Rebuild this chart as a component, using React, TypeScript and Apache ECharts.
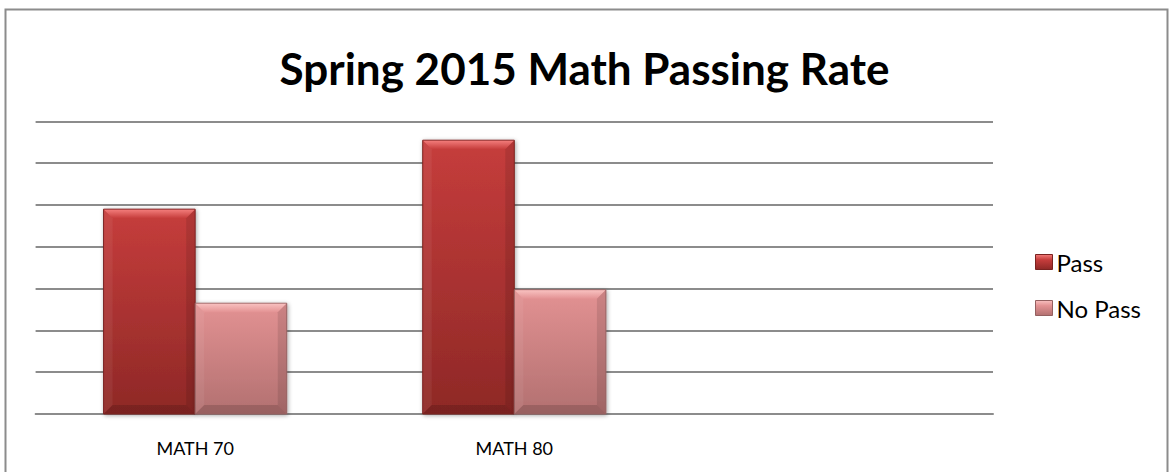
import React, { useEffect, useRef } from "react";
import * as echarts from "echarts";

const categories = ["MATH 70", "MATH 80", ""];
const passValues = [4.9, 6.55, null];
const noPassValues = [2.65, 2.97, null];
const seriesNames = ["Pass", "No Pass"];
const titleText = "Spring 2015 Math Passing Rate";

const FONT = "Lato, 'Open Sans', sans-serif";
const CAT_GAP = 0.426;

type Palette = { top: string; bottom: string; light: string; border: string };
const passPal: Palette = { top: "#c63d3c", bottom: "#8e2826", light: "#f27c7a", border: "#7a2220" };
const noPassPal: Palette = { top: "#e39293", bottom: "#b27070", light: "#f8c0bf", border: "#946060" };

function makeRender(side: number, pal: Palette) {
  return (params: any, api: any) => {
    const idx = api.value(0);
    const val = api.value(1);
    const top = api.coord([idx, val]);
    const base = api.coord([idx, 0]);
    const band = api.size([1, 0])[0];
    const w = (band * (1 - CAT_GAP)) / 2;
    const x0 = side === 0 ? top[0] - w : top[0];
    const x1 = x0 + w;
    const y0 = top[1];
    const y1 = base[1];
    const h = y1 - y0;
    const b = Math.min(9, h / 3);
    return {
      type: "group",
      children: [
        {
          type: "rect",
          shape: { x: x0, y: y0, width: w, height: h },
          style: {
            fill: new echarts.graphic.LinearGradient(0, 0, 0, 1, [
              { offset: 0, color: pal.top },
              { offset: 1, color: pal.bottom },
            ]),
            stroke: pal.border,
            lineWidth: 1,
            shadowColor: "rgba(0,0,0,0.35)",
            shadowBlur: 4,
            shadowOffsetX: 1,
            shadowOffsetY: 1,
          },
        },
        {
          type: "polygon",
          shape: { points: [[x0 + 0.5, y0 + 0.5], [x1 - 0.5, y0 + 0.5], [x1 - b, y0 + b], [x0 + b, y0 + b]] },
          style: {
            fill: new echarts.graphic.LinearGradient(0, 0, 0, 1, [
              { offset: 0, color: pal.light },
              { offset: 1, color: pal.top },
            ]),
          },
          silent: true,
        },
        {
          type: "polygon",
          shape: { points: [[x0 + 0.5, y0 + 0.5], [x0 + b, y0 + b], [x0 + b, y1 - b], [x0 + 0.5, y1 - 0.5]] },
          style: { fill: "rgba(255,255,255,0.06)" },
          silent: true,
        },
        {
          type: "polygon",
          shape: { points: [[x1 - 0.5, y0 + 0.5], [x1 - b, y0 + b], [x1 - b, y1 - b], [x1 - 0.5, y1 - 0.5]] },
          style: { fill: "rgba(0,0,0,0.10)" },
          silent: true,
        },
        {
          type: "polygon",
          shape: { points: [[x0 + 0.5, y1 - 0.5], [x0 + b, y1 - b], [x1 - b, y1 - b], [x1 - 0.5, y1 - 0.5]] },
          style: { fill: "rgba(0,0,0,0.14)" },
          silent: true,
        },
      ],
    };
  };
}

function toData(vals: (number | null)[]) {
  const out: number[][] = [];
  vals.forEach((v, i) => {
    if (v !== null) out.push([i, v]);
  });
  return out;
}

export default function App() {
  const ref = useRef<HTMLDivElement>(null);
  useEffect(() => {
    if (!ref.current) return;
    const chart = echarts.init(ref.current, undefined, { renderer: "svg" });
    const legendFill = (pal: Palette) =>
      new echarts.graphic.LinearGradient(0, 0, 0, 1, [
        { offset: 0, color: pal.light },
        { offset: 0.35, color: pal.top },
        { offset: 1, color: pal.bottom },
      ]);
    chart.setOption({
      animation: false,
      backgroundColor: "#ffffff",
      title: {
        text: titleText,
        left: "center",
        top: 41,
        textStyle: { fontFamily: FONT, fontWeight: "bold", fontSize: 44, color: "#000000" },
      },
      legend: {
        orient: "vertical",
        left: 1030,
        top: 245,
        itemWidth: 17,
        itemHeight: 15,
        itemGap: 22,
        icon: "rect",
        textStyle: { fontFamily: FONT, fontSize: 24, color: "#000000", padding: [0, 0, 0, -1] },
        data: [
          { name: seriesNames[0], itemStyle: { color: legendFill(passPal), borderColor: passPal.border, borderWidth: 1 } },
          { name: seriesNames[1], itemStyle: { color: legendFill(noPassPal), borderColor: noPassPal.border, borderWidth: 1 } },
        ],
      },
      grid: { left: 35.6, right: 176, top: 121.4, bottom: 58, containLabel: false },
      xAxis: {
        type: "category",
        data: categories,
        axisLine: { show: true, lineStyle: { color: "#8c8c8c", width: 2 } },
        axisTick: { show: false },
        axisLabel: { fontFamily: FONT, fontSize: 18, color: "#000000", margin: 25 },
        splitLine: { show: false },
      },
      yAxis: {
        type: "value",
        min: 0,
        max: 7,
        interval: 1,
        axisLine: { show: false },
        axisTick: { show: false },
        axisLabel: { show: false },
        splitLine: { show: true, lineStyle: { color: "#8c8c8c", width: 2 } },
      },
      series: [
        {
          name: seriesNames[0],
          type: "custom",
          renderItem: makeRender(0, passPal),
          encode: { x: 0, y: 1 },
          data: toData(passValues),
          itemStyle: { color: passPal.top },
          z: 3,
        },
        {
          name: seriesNames[1],
          type: "custom",
          renderItem: makeRender(1, noPassPal),
          encode: { x: 0, y: 1 },
          data: toData(noPassValues),
          itemStyle: { color: noPassPal.top },
          z: 3,
        },
      ],
      graphic: [
        {
          type: "rect",
          shape: { x: 5.5, y: 9.5, width: 1162, height: 480 },
          style: { fill: "none", stroke: "#8c8c8c", lineWidth: 2 },
          silent: true,
        },
      ],
    });
    return () => chart.dispose();
  }, []);
  return (
    <div
      ref={ref}
      style={{ position: "fixed", left: 0, top: 0, width: 1169, height: 472 }}
    />
  );
}
